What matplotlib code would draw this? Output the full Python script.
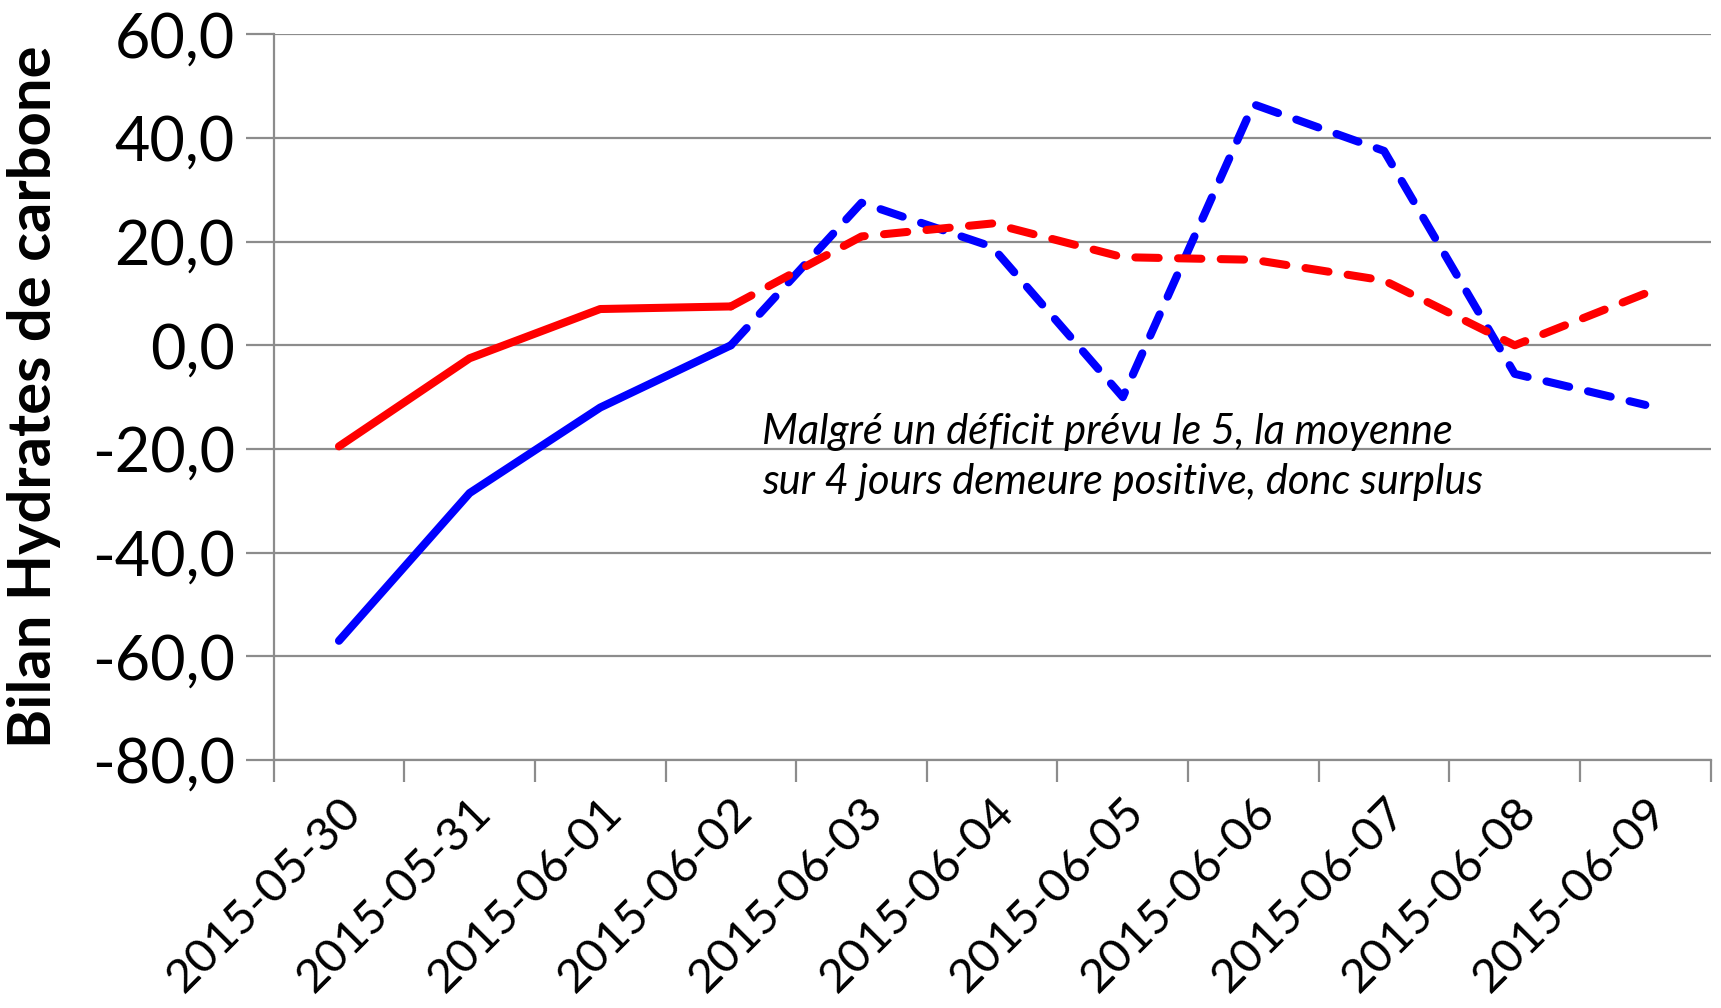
import matplotlib.pyplot as plt
from matplotlib.ticker import FixedLocator, FuncFormatter

# categories and series
dates = ["2015-05-30", "2015-05-31", "2015-06-01", "2015-06-02", "2015-06-03",
         "2015-06-04", "2015-06-05", "2015-06-06", "2015-06-07", "2015-06-08",
         "2015-06-09"]
moyenne = [-19.5, -2.5, 7.0, 7.5, 21.0, 23.5, 17.0, 16.5, 12.5, 0.0, 10.0]
journalier = [-57.0, -28.5, -12.0, 0.0, 27.5, 19.0, -10.0, 46.5, 37.5, -5.5, -11.5]
last_real = 3  # index of last measured day (solid), forecast afterwards (dashed)
note = "Malgré un déficit prévu le 5, la moyenne\nsur 4 jours demeure positive, donc surplus"

plt.rcParams['font.family'] = ['Lato', 'DejaVu Sans']

fig = plt.figure(figsize=(17.21, 10.08), dpi=100)
ax = fig.add_axes([0.159, 0.246, 0.835, 0.72])

x = list(range(len(dates)))
grid_c = "#8c8c8c"
lw = 5.8
dash = (0, (2.9, 2.4))

# blue series
ax.plot(x[:last_real + 1], journalier[:last_real + 1], color="#0000ff", lw=lw,
        solid_capstyle="round", solid_joinstyle="round", zorder=3)
ax.plot(x[last_real:], journalier[last_real:], color="#0000ff", lw=lw,
        linestyle=dash, dash_capstyle="round", dash_joinstyle="round", zorder=3)
# red series
ax.plot(x[:last_real + 1], moyenne[:last_real + 1], color="#ff0000", lw=lw,
        solid_capstyle="round", solid_joinstyle="round", zorder=4)
ax.plot(x[last_real:], moyenne[last_real:], color="#ff0000", lw=lw,
        linestyle=dash, dash_capstyle="round", dash_joinstyle="round", zorder=4)

ax.text(3.24, -21.5, note, fontsize=30, style="italic", ha="left", va="center",
        linespacing=1.4)

ax.set_xlim(-0.5, len(dates) - 0.5)
ax.set_ylim(-80, 60)
ax.set_yticks(range(-80, 61, 20))
ax.yaxis.set_major_formatter(FuncFormatter(lambda v, p: f"{v:.1f}".replace(".", ",")))
ax.grid(axis="y", color=grid_c, lw=1.6)
ax.set_axisbelow(True)

ax.set_xticks(x)
ax.set_xticklabels(dates, rotation=45, ha="right", rotation_mode="anchor")
ax.xaxis.set_minor_locator(FixedLocator([i - 0.5 for i in range(len(dates) + 1)]))
ax.tick_params(axis="x", which="major", length=0, labelsize=34, pad=22)
ax.tick_params(axis="x", which="minor", length=16, width=1.6, color=grid_c)
ax.tick_params(axis="y", length=20, width=1.6, color=grid_c, labelsize=44, pad=8)

for s in ["top", "right"]:
    ax.spines[s].set_visible(False)
for s in ["left", "bottom"]:
    ax.spines[s].set_color(grid_c)
    ax.spines[s].set_linewidth(1.6)

ax.set_ylabel("Bilan Hydrates de carbone", fontsize=43, fontweight="bold")
ax.yaxis.set_label_coords(-0.148, 0.5)

fig.savefig("out.png", dpi=100)
